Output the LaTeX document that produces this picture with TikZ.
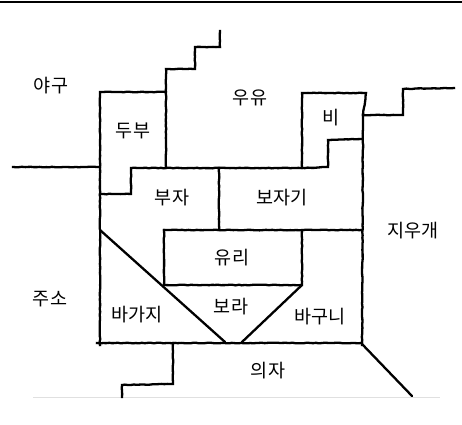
\documentclass[tikz,border=0pt]{standalone}
\usepackage{fontspec}
\newfontfamily\kr{Noto Sans CJK KR}
\usetikzlibrary{decorations.pathmorphing}
\begin{document}
\begin{tikzpicture}[x=1pt,y=-1pt,
  wall/.style={line width=2.3pt, line join=miter, line cap=rect, black,
    decorate, decoration={random steps, segment length=3pt, amplitude=0.35pt}},
  diag/.style={line width=2.3pt, line cap=round, black},
  lbl/.style={font=\kr\fontsize{18.5}{18.5}\selectfont, inner sep=0pt}]
\useasboundingbox (0,0) rectangle (462,424);
\fill[white] (0,0) rectangle (462,424);
% top rule and scan edge
\draw[line width=2pt] (0,2) -- (462,2);
\draw[black!12, line width=1pt] (33,397) -- (440,397);

% left horizontal
\draw[wall] (13,167) -- (100,167);
% big outline left side and tofu box
\draw[wall] (100,345) -- (100,92) -- (166,92);
% staircase
\draw[wall] (166,168) -- (166,69) -- (195,69) -- (195,47) -- (220,47) -- (220,31);
% busa step and middle horizontal
\draw[wall] (100,194) -- (131,194) -- (131,168) -- (302,168) -- (328,167) -- (328,140) -- (362,139);
% bi box
\draw[wall] (302,168) -- (302,93) -- (366,93) -- (363,115);
\draw[wall] (363,115) -- (362,345);
% right step
\draw[wall] (363,115) -- (403,115) -- (403,89) -- (454,88);
% vertical between busa and bojagi
\draw[wall] (219,168) -- (219,230);
% glass box
\draw[wall] (164,230) -- (362,230);
\draw[wall] (164,230) -- (164,285) -- (302,285) -- (302,230);
% bottom of big box
\draw[wall] (97,343) -- (362,343);
% diagonals
\draw[diag] (100,230) -- (225,342);
\draw[diag] (302,285) -- (242,342);
% below
\draw[wall] (173,343) -- (173,384) -- (122,385) -- (122,397);
\draw[diag] (362,344) -- (412,396);

% labels
\node[lbl] (yagu) at (51,86) {야구};
\node[lbl] (dubu) at (133,131) {두부};
\node[lbl] (uyu) at (250,98) {우유};
\node[lbl] (bi) at (331,118) {비};
\node[lbl] (buja) at (172,198) {부자};
\node[lbl] (bojagi) at (282,198) {보자기};
\node[lbl] (jiugae) at (413,231) {지우개};
\node[lbl] (yuri) at (232,258) {유리};
\node[lbl] (juso) at (50,299) {주소};
\node[lbl] (bagaji) at (137,315) {바가지};
\node[lbl] (bora) at (231,307) {보라};
\node[lbl] (baguni) at (320,317) {바구니};
\node[lbl] (uija) at (268,371) {의자};
\end{tikzpicture}
\end{document}
